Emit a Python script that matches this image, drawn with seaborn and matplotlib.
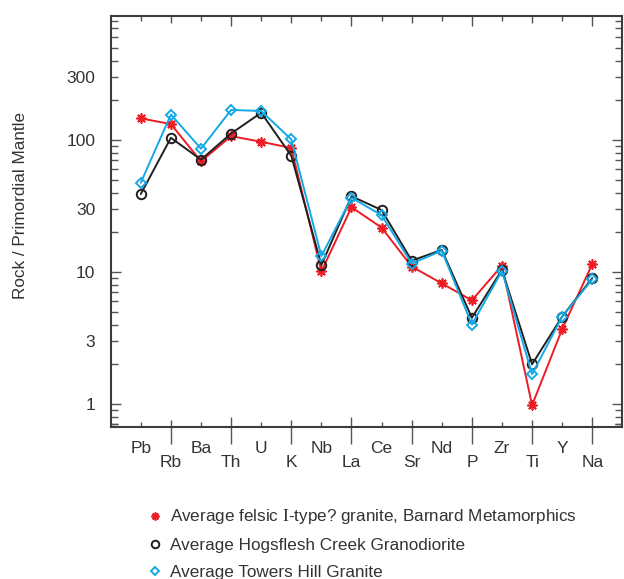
import numpy as np
import pandas as pd
import matplotlib
matplotlib.use("Agg")
import matplotlib.pyplot as plt
from matplotlib.lines import Line2D
from matplotlib.ticker import FixedLocator, FixedFormatter, NullFormatter
import seaborn as sns

# Primitive-mantle normalised trace elements (spider diagram)
elements = ["Pb", "Rb", "Ba", "Th", "U", "K", "Nb", "La",
            "Ce", "Sr", "Nd", "P", "Zr", "Ti", "Y", "Na"]
barnard = [146, 132, 69, 107, 97, 87, 10.1, 31, 21.7, 11, 8.2, 6.1, 11.2, 0.98, 3.7, 11.5]
hogsflesh = [39, 104, 71, 112, 161, 76, 11.3, 37.5, 29.5, 12.2, 14.7, 4.5, 10.4, 2.0, 4.6, 9.0]
towers_hill = [47.5, 156, 86, 169, 166, 101, 13.2, 36.5, 27, 11.6, 14.5, 4.0, 10.2, 1.68, 4.6, 8.8]

series_names = [
    "Average felsic $\\mathrm{I}$-type? granite, Barnard Metamorphics",
    "Average Hogsflesh Creek Granodiorite",
    "Average Towers Hill Granite",
]
y_ticks = [1, 3, 10, 30, 100, 300]
y_tick_labels = ["1", "3", "10", "30", "100", "300"]
y_label = "Rock / Primordial Mantle"

sns.set_style("ticks")
plt.rcParams["font.family"] = ["Liberation Sans", "DejaVu Sans"]
plt.rcParams["mathtext.fontset"] = "stix"

RED, BLACK, CYAN = "#ED1C24", "#231F20", "#12A9E6"
FRAME = "#3c3c3c"
TXT = "#333333"

styles = [
    dict(color=RED, marker=(8, 2, 0), ms=7.2, mew=1.25, mfc=RED),
    dict(color=BLACK, marker="o", ms=6.8, mew=1.4, mfc="none"),
    dict(color=CYAN, marker="D", ms=5.0, mew=1.4, mfc="none"),
]

df = pd.DataFrame({
    "pos": np.tile(np.arange(len(elements)), 3),
    "value": barnard + hogsflesh + towers_hill,
    "series": np.repeat(series_names, len(elements)),
})

fig = plt.figure(figsize=(6.24, 5.79), dpi=100)
ax = fig.add_axes([0.1774, 0.263, 0.8200, 0.7099])

for name, st in zip(series_names, styles):
    sub = df[df["series"] == name]
    sns.lineplot(data=sub, x="pos", y="value", sort=False, ax=ax,
                 color=st["color"], linewidth=1.4, legend=False)
    line = ax.lines[-1]
    line.set_marker(st["marker"])
    line.set_markersize(st["ms"])
    line.set_markeredgewidth(st["mew"])
    line.set_markeredgecolor(st["color"])
    line.set_markerfacecolor(st["mfc"])
    line.set_clip_on(False)

ax.set_yscale("log")
ax.set_ylim(0.673, 875)
ax.set_xlim(-1, len(elements))
ax.set_xlabel("")
ax.set_ylabel("")

# y axis: labelled majors plus log minors, ticks inward on both sides
minor_y = [m * d for d in (0.1, 1, 10, 100) for m in range(2, 10)
           if m != 3 and 0.673 < m * d < 875] + [0.7, 0.8, 0.9]
ax.yaxis.set_major_locator(FixedLocator(y_ticks))
ax.yaxis.set_major_formatter(FixedFormatter(y_tick_labels))
ax.yaxis.set_minor_locator(FixedLocator(sorted(set(minor_y))))
ax.yaxis.set_minor_formatter(NullFormatter())
ax.tick_params(axis="y", which="both", direction="in", left=True, right=True,
               length=5, width=1.0, color="#555555", labelsize=12.5,
               labelcolor=TXT, pad=11)

# x axis: staggered element labels
pos = np.arange(len(elements))
ax.xaxis.remove_overlapping_locs = False
ax.xaxis.set_major_locator(FixedLocator(pos))
ax.xaxis.set_major_formatter(FixedFormatter(
    [e if i % 2 == 0 else "" for i, e in enumerate(elements)]))
ax.xaxis.set_minor_locator(FixedLocator(pos[1::2]))
ax.xaxis.set_minor_formatter(FixedFormatter(elements[1::2]))
ax.tick_params(axis="x", which="major", direction="in", top=True, bottom=True,
               length=3.6, width=1.0, color="#555555", labelsize=12.5,
               labelcolor=TXT, pad=10)
ax.tick_params(axis="x", which="minor", direction="out", top=False, bottom=True,
               length=12.2, width=1.0, color="#555555", labelsize=12.5,
               labelcolor=TXT, pad=8.5)

for sp in ax.spines.values():
    sp.set_color(FRAME)
    sp.set_linewidth(1.5)

# individual tick lengths
for i, t in enumerate(ax.xaxis.get_major_ticks()):
    L = 3.6 if i % 2 == 0 else (7.2 if i % 4 == 3 else 5.0)
    t.tick1line.set_markersize(L)
    t.tick2line.set_markersize(L)
for v, t in zip(y_ticks, ax.yaxis.get_major_ticks()):
    L = 7.2 if v in (1, 10, 100) else 5.0
    t.tick1line.set_markersize(L)
    t.tick2line.set_markersize(L)

fig.text(20.5 / 624, 1 - 205 / 579, y_label, rotation=90, ha="center",
         va="center", fontsize=12.3, color=TXT)

handles = [
    Line2D([], [], linestyle="none", marker=st["marker"], color=st["color"],
           markersize=st["ms"] * 0.8, markeredgewidth=st["mew"],
           markerfacecolor=st["mfc"], markeredgecolor=st["color"])
    for st in styles
]
fig.legend(handles, series_names, loc="upper left",
           bbox_to_anchor=(146.5 / 624, 1 - 507.5 / 579), frameon=False,
           handlelength=1.0, handletextpad=0.4, borderpad=0, borderaxespad=0,
           labelspacing=0.68, fontsize=12.3, labelcolor=TXT)

fig.savefig("out.png", dpi=100)
